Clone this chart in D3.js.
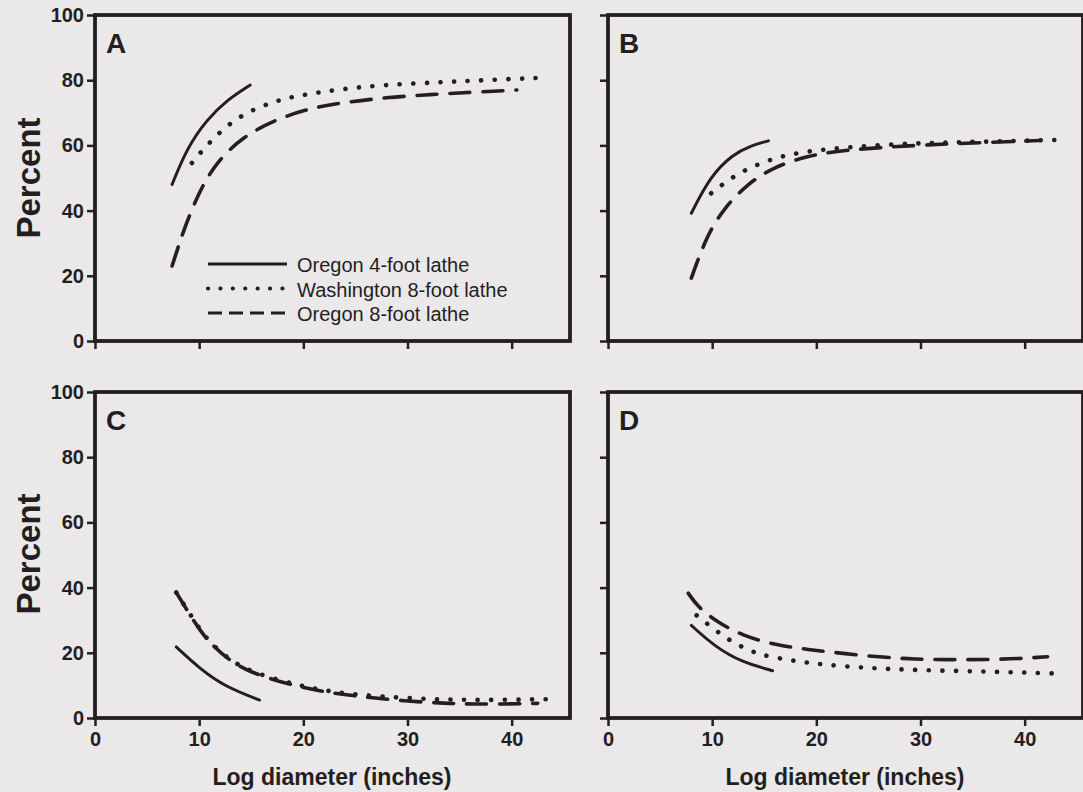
<!DOCTYPE html>
<html>
<head>
<meta charset="utf-8">
<script src="https://cdn.jsdelivr.net/npm/d3@7"></script>
<style>
  body { margin: 0; background: #ebe8ea; }
  svg { display: block; }
  .tick text { font-family: "Liberation Sans", Arial, sans-serif; font-weight: bold; font-size: 20px; fill: #231f20; }
  .tick line { stroke: #231f20; stroke-width: 2.5; }
</style>
</head>
<body>
<svg id="chart" width="1083" height="792"></svg>
<script>
// series names (legend order)
const seriesNames = ["Oregon 4-foot lathe", "Washington 8-foot lathe", "Oregon 8-foot lathe"];
const panelLetters = ["A", "B", "C", "D"];
const xTicks = [0, 10, 20, 30, 40];
const yTicks = [0, 20, 40, 60, 80, 100];

// Panel A
const aOr4X = [7.4, 8.8, 10.7, 12.7, 14.9];
const aOr4Y = [48, 59, 67.8, 74, 78.5];
const aWa8X = [9.3, 10.9, 12.8, 15, 17.4, 19, 23.5, 28, 33.3, 37.3, 43.3];
const aWa8Y = [54.6, 60.7, 66.5, 70.9, 73.6, 75, 77.3, 78.6, 79.4, 80, 80.8];
const aOr8X = [7.4, 8.6, 10.1, 11.7, 14.2, 17.5, 20.9, 24.2, 28, 31.7, 35, 40.5];
const aOr8Y = [23, 35, 46.5, 55, 62.7, 68.2, 71.6, 73.3, 74.7, 75.5, 76.1, 77];

// Panel B
const bOr4X = [8, 9.8, 12, 13.7, 15.4];
const bOr4Y = [39.2, 50.5, 57.3, 59.9, 61.4];
const bWa8X = [9.9, 11.9, 14.1, 16.3, 18.7, 22, 27, 31.2, 35.4, 43.4];
const bWa8Y = [45.3, 50.3, 53.9, 56.4, 58, 59.2, 60.3, 60.8, 61.1, 61.7];
const bOr8X = [8, 9.5, 11.2, 13.4, 15.8, 19.1, 22.6, 30, 41.5];
const bOr8Y = [19.3, 32.5, 41, 48.2, 53.2, 56.8, 58.6, 60.2, 61.5];

// Panel C
const cOr4X = [7.8, 10.1, 12.5, 15.8];
const cOr4Y = [21.8, 15, 9.6, 5.5];
const cWa8X = [7.8, 9, 10.1, 11.1, 12.9, 15, 17.9, 20.4, 22.9, 25.4, 29.7, 34, 38, 43.8];
const cWa8Y = [38.5, 32.5, 27, 23, 17.8, 14.2, 11.4, 9.4, 8, 7.1, 6.1, 5.6, 5.5, 5.8];
const cOr8X = [7.8, 9, 10.1, 11.1, 12.9, 15, 17.9, 20.4, 22.9, 25.4, 29.7, 34, 38, 42.5];
const cOr8Y = [38.5, 32.2, 26.8, 22.8, 17.6, 13.9, 11, 9, 7.6, 6.6, 5.2, 4.4, 4.2, 4.5];

// Panel D
const dOr4X = [8, 10.3, 12.8, 15.8];
const dOr4Y = [28.4, 21.8, 17.2, 14.5];
const dWa8X = [8.5, 10.2, 11.5, 12.7, 14, 15.2, 17.7, 20.5, 24.5, 28.6, 34, 39.5, 43.5];
const dWa8Y = [31.5, 27.2, 24.2, 22, 20.2, 19, 17.6, 16.4, 15.4, 14.8, 14.4, 14, 13.6];
const dOr8X = [7.7, 8.6, 10.3, 12.9, 16.1, 19.2, 22.5, 26.1, 29.5, 32.8, 36.2, 39.6, 42.2];
const dOr8Y = [38.3, 34.2, 29.8, 25.2, 22.4, 21, 19.8, 18.7, 18, 17.9, 17.9, 18.2, 18.8];

const panelData = [
	[[aOr4X, aOr4Y], [aWa8X, aWa8Y], [aOr8X, aOr8Y]],
	[[bOr4X, bOr4Y], [bWa8X, bWa8Y], [bOr8X, bOr8Y]],
	[[cOr4X, cOr4Y], [cWa8X, cWa8Y], [cOr8X, cOr8Y]],
	[[dOr4X, dOr4Y], [dWa8X, dWa8Y], [dOr8X, dOr8Y]]
];

const ink = "#231f20";
const font = '"Liberation Sans", Arial, sans-serif';
// line styles per series: solid, dotted, dashed
const styles = [
	{width: 3, dash: null, cap: "round"},
	{width: 4.6, dash: "0.1 13.5", cap: "round"},
	{width: 3.6, dash: "20 13", cap: "round"}
];

const svg = d3.select("#chart");
const pw = 475, ph = 326;
const lefts = [95, 608], tops = [15, 392];

panelData.forEach((series, p) => {
	const col = p % 2, row = Math.floor(p / 2);
	const x0 = lefts[col], y0 = tops[row];
	const g = svg.append("g").attr("transform", `translate(${x0},${y0})`);

	const x = d3.scaleLinear().domain([0, 45.6]).range([0, pw]);
	const y = d3.scaleLinear().domain([0, 100]).range([ph, 0]);

	// axes (ticks outward)
	const yAxis = d3.axisLeft(y).tickValues(yTicks).tickSize(8).tickPadding(3);
	if (col === 1) yAxis.tickFormat("");
	g.append("g").call(yAxis).call(a => a.select(".domain").remove());

	const xAxis = d3.axisBottom(x).tickValues(xTicks).tickSize(8).tickPadding(6);
	if (row === 0) xAxis.tickFormat("");
	g.append("g").attr("transform", `translate(0,${ph})`).call(xAxis)
		.call(a => a.select(".domain").remove());

	// frame
	g.append("rect")
		.attr("width", pw).attr("height", ph)
		.attr("fill", "none").attr("stroke", ink).attr("stroke-width", 3.8);

	// panel letter
	g.append("text")
		.attr("x", 11).attr("y", 38)
		.attr("font-family", font).attr("font-weight", "bold").attr("font-size", 28)
		.attr("fill", ink)
		.text(panelLetters[p]);

	const line = d3.line()
		.x(d => x(d[0])).y(d => y(d[1]))
		.curve(d3.curveBasis);

	series.forEach((s, i) => {
		const pts = s[0].map((v, k) => [v, s[1][k]]);
		g.append("path")
			.attr("d", line(pts))
			.attr("fill", "none")
			.attr("stroke", ink)
			.attr("stroke-width", styles[i].width)
			.attr("stroke-linecap", styles[i].cap)
			.attr("stroke-dasharray", styles[i].dash);
	});

	// legend only in panel A
	if (p === 0) {
		const legend = g.append("g").attr("transform", `translate(${208 - x0},${264 - y0})`);
		const legendDash = [null, "0.1 12.3", "14 7"];
		seriesNames.forEach((name, i) => {
			legend.append("line")
				.attr("x1", 0).attr("x2", 79)
				.attr("y1", i * 24.5).attr("y2", i * 24.5)
				.attr("stroke", ink)
				.attr("stroke-width", i === 1 ? 4.2 : 3.2)
				.attr("stroke-linecap", i === 1 ? "round" : "butt")
				.attr("stroke-dasharray", legendDash[i]);
			legend.append("text")
				.attr("x", 89).attr("y", i * 24.5 + 8)
				.attr("font-family", font).attr("font-size", 20)
				.attr("fill", ink)
				.text(name);
		});
	}
});

// axis titles
[178, 554].forEach(cy => {
	svg.append("text")
		.attr("transform", `translate(40,${cy}) rotate(-90)`)
		.attr("text-anchor", "middle")
		.attr("font-family", font).attr("font-weight", "bold").attr("font-size", 33)
		.attr("fill", ink)
		.text("Percent");
});
[332, 845].forEach(cx => {
	svg.append("text")
		.attr("x", cx).attr("y", 785)
		.attr("text-anchor", "middle")
		.attr("font-family", font).attr("font-weight", "bold").attr("font-size", 23)
		.attr("fill", ink)
		.text("Log diameter (inches)");
});
</script>
</body>
</html>
